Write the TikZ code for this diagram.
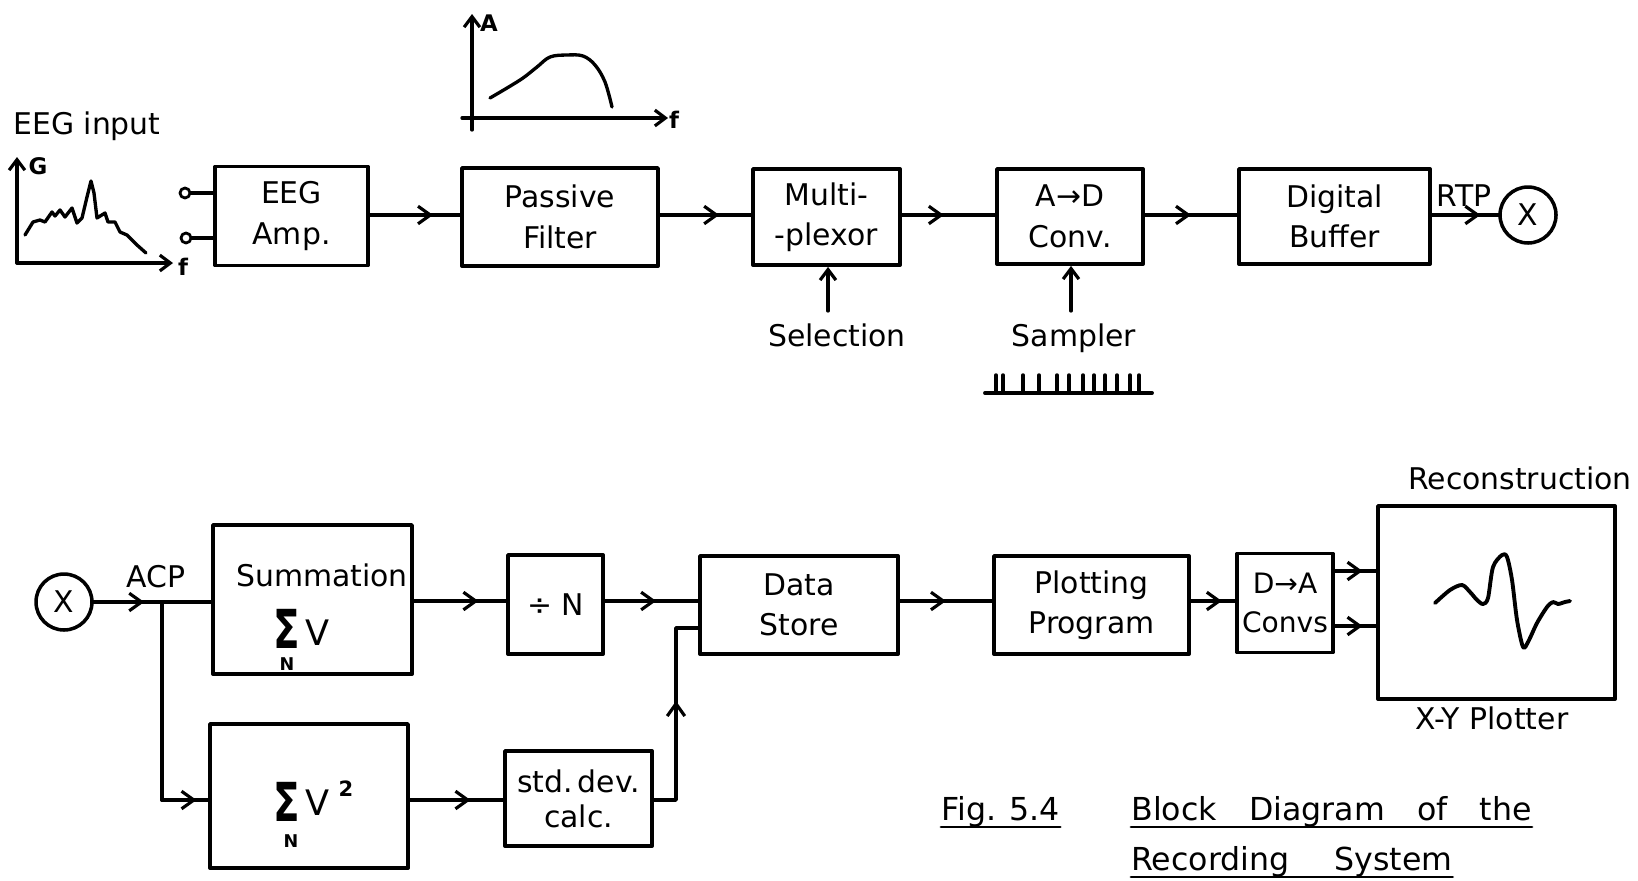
\documentclass[tikz,border=0pt]{standalone}
\usepackage{graphicx}
\usepackage{fontspec}
\setmainfont{DejaVu Sans}
\usetikzlibrary{arrows.meta,decorations.markings,calc}
\newcommand{\tallsig}{\scalebox{1.3}[1.8]{\bfseries Σ}}
\begin{document}
\begin{tikzpicture}[x=0.02cm,y=-0.02cm, line join=round, line cap=round,
 box/.style={draw, line width=2.2pt, align=center, inner sep=0pt, font=\fontsize{17}{23}\selectfont},
 lbl/.style={font=\fontsize{17}{20}\selectfont, inner sep=0pt},
 sml/.style={font=\fontsize{13}{14}\selectfont\bfseries, inner sep=0pt},
 tiny/.style={font=\fontsize{10}{10}\selectfont\bfseries, inner sep=0pt},
 bigv/.style={font=\fontsize{20}{20}\selectfont, inner sep=0pt},
 circ/.style={draw, circle, minimum size=1.12cm, inner sep=0pt, line width=2pt, font=\fontsize{17}{20}\selectfont},
 term/.style={draw, circle, minimum size=0.2cm, inner sep=0pt, line width=1.6pt},
 conn/.style={line width=2.1pt},
 arr/.style={postaction={decorate}, decoration={markings, mark=at position #1 with {\arrow{Straight Barb[length=7pt,width=10pt,line width=1.8pt]}}}},
 ax/.style={line width=1.9pt, -{Straight Barb[length=6pt,width=9pt,line width=1.8pt]}},
 tip/.style={line width=1.9pt, -{Straight Barb[length=6pt,width=9pt,line width=1.8pt]}},
 crv/.style={line width=1.9pt},
 ul/.style={line width=1.6pt}
]
\useasboundingbox (0,0) rectangle (1638,880);

% rows
\coordinate (r1) at (0,215);
\coordinate (r2) at (0,601);
\coordinate (r3) at (0,800);
\coordinate (r4) at (0,628);
\coordinate (r5) at (0,571);
\coordinate (r6) at (0,626);
\coordinate (kx) at (676,0);

% ---------- top row ----------
\node[box, minimum width=3.06cm, minimum height=1.98cm] (amp) at (291.5,216) {EEG\\Amp.};
\node[box, minimum width=3.92cm, minimum height=1.96cm] (filt) at (560,217) {Passive\\Filter};
\node[box, minimum width=2.94cm, minimum height=1.92cm] (mux) at (826.5,217) {Multi-\\-plexor};
\node[box, minimum width=2.92cm, minimum height=1.90cm] (adc) at (1070,216.5) {A→D\\Conv.};
\node[box, minimum width=3.82cm, minimum height=1.90cm] (buf) at (1334.5,216.5) {Digital\\Buffer};
\node[circ] (x1) at (1528,215) {X};

\node[term] (t1) at (185,193) {};
\node[term] (t2) at (186,238) {};
\draw[conn] (t1.east) -- (amp.west |- t1.east);
\draw[conn] (t2.east) -- (amp.west |- t2.east);

\draw[conn, arr=0.7] (amp.east |- r1) -- (filt.west |- r1);
\draw[conn, arr=0.65] (filt.east |- r1) -- (mux.west |- r1);
\draw[conn, arr=0.45] (mux.east |- r1) -- (adc.west |- r1);
\draw[conn, arr=0.5] (adc.east |- r1) -- (buf.west |- r1);
\draw[conn, arr=0.73] (buf.east |- r1) -- (x1.west);
\node[lbl, anchor=base] (rtp) at (1464,206) {RTP};

\node[lbl, anchor=base west] (eegin) at (13,134) {EEG input};
\node[lbl, anchor=base] (sel) at (837,346) {Selection};
\node[lbl, anchor=base] (smp) at (1074,346) {Sampler};
\coordinate (sela) at (828,311);
\coordinate (smpa) at (1071,311);
\draw[tip] (sela) -- (sela |- mux.south);
\draw[tip] (smpa) -- (smpa |- adc.south);

% sampler pulse train
\draw[line width=2.2pt] (985,393) -- (1152,393);
\foreach \t in {996,1003,1023,1039,1057,1069,1083,1094,1105,1117,1130,1139}
  \draw[line width=2pt] (\t,375) -- (\t,393);

% EEG spectrum graph
\draw[ax] (17,263) -- (17,157);
\draw[ax] (17,263) -- (173,263);
\node[sml] (glab) at (38,166) {G};
\node[sml] (f1) at (183,267) {f};
\draw[crv] plot coordinates {(25,235) (33,222) (40,220) (45,222) (52,212) (55,216) (60,210) (65,217) (72,208) (77,223) (82,218) (87,197) (91,181) (94,193) (97,218) (105,213) (108,222) (115,222) (120,232) (127,235) (132,240) (137,245) (146,253)};

% filter response graph
\draw[ax] (472,130) -- (472,14);
\draw[ax] (462,118) -- (668,118);
\node[sml] (alab) at (489,23) {A};
\node[sml] (f2) at (674,120) {f};
\draw[crv] plot[smooth, tension=0.6] coordinates {(490,98) (507,88) (523,78) (537,67) (550,57) (567,55) (583,56) (595,65) (605,82) (612,107)};

% ---------- bottom row ----------
\node[circ] (x2) at (64,602) {X};
\node[box, minimum width=3.98cm, minimum height=2.98cm] (sum) at (312.5,599.5) {};
\node[lbl, anchor=base] (sumt) at (322,586) {Summation};
\node[lbl, inner sep=0pt] (sumsig) at (286.5,629) {\tallsig};
\node[bigv, anchor=base] (sumv) at (317.5,645) {V};
\node[tiny, anchor=north] (sumn) at (287,657) {N};

\node[box, minimum width=1.90cm, minimum height=1.98cm] (divn) at (555.5,604.5) {÷ N};
\node[box, minimum width=3.96cm, minimum height=1.96cm] (store) at (799,605) {Data\\Store};
\node[box, minimum width=3.90cm, minimum height=1.96cm] (plot) at (1091.5,605) {Plotting\\Program};
\node[box, minimum width=1.92cm, minimum height=1.98cm, font=\fontsize{16}{22}\selectfont] (dac) at (1285,603) {D→A\\Convs};
\node[box, minimum width=4.74cm, minimum height=3.86cm] (xy) at (1496.5,602.5) {};

\node[box, minimum width=3.96cm, minimum height=2.88cm] (sq) at (309,796) {};
\node[lbl, inner sep=0pt] (sqsig) at (286.5,802) {\tallsig};
\node[bigv, anchor=base] (sqv) at (317.5,815) {V};
\node[tiny, font=\fontsize{12}{12}\selectfont\bfseries] (sq2) at (346,789) {2};
\node[tiny, anchor=north] (sqn) at (291,834) {N};

\node[box, minimum width=2.94cm, minimum height=1.90cm, font=\fontsize{17}{20}\selectfont] (std) at (578.5,798.5) {std.\,dev.\\calc.};

\node[lbl, anchor=base] (acp) at (156,587) {ACP};
\node[lbl, anchor=base] (rec) at (1520,489) {Reconstruction};
\node[lbl, anchor=base] (xyl) at (1492,729) {X-Y Plotter};

\coordinate (j) at (162,602);
\draw[conn, arr=0.74] (x2.east) -- (j);
\draw[conn] (j) -- (sum.west |- j);
\draw[conn] (j) -- (j |- r3);
\draw[conn, arr=0.75] (j |- r3) -- (sq.west |- r3);

\draw[conn, arr=0.7] (sum.east |- r2) -- (divn.west |- r2);
\draw[conn, arr=0.55] (divn.east |- r2) -- (store.west |- r2);
\draw[conn, arr=0.65] (sq.east |- r3) -- (std.west |- r3);
\draw[conn, arr=0.56] (std.east |- r3) -- (kx |- r3) -- (kx |- r4) -- (store.west |- r4);
\draw[conn, arr=0.5] (store.east |- r2) -- (plot.west |- r2);
\draw[conn, arr=0.7] (plot.east |- r2) -- (dac.west |- r2);
\draw[conn, arr=0.67] (dac.east |- r5) -- (xy.west |- r5);
\draw[conn, arr=0.67] (dac.east |- r6) -- (xy.west |- r6);

% reconstructed waveform
\draw[crv, line width=2.2pt] plot[smooth, tension=0.5] coordinates {(1435,603) (1450,590) (1462,585) (1470,592) (1477,600) (1483,604) (1488,598) (1493,567) (1502,555) (1507,557) (1512,580) (1517,620) (1523,647) (1528,642) (1537,623) (1547,607) (1553,602) (1558,604) (1565,602) (1570,601)};

% caption
\node[anchor=base west, inner sep=0pt, font=\fontsize{18}{20}\selectfont] (fig) at (941,820) {Fig. 5.4};
\node[anchor=base west, inner sep=0pt, font=\fontsize{18}{20}\selectfont] (cap1) at (1131,820) {Block\hspace{0.7em} Diagram\hspace{0.7em} of\hspace{0.7em} the};
\node[anchor=base west, inner sep=0pt, font=\fontsize{18}{20}\selectfont] (cap2) at (1131,870) {Recording\hspace{1.1em} System};
\draw[ul] ($(fig.base west)+(0,7)$) -- ($(fig.base east)+(0,7)$);
\draw[ul] ($(cap1.base west)+(0,7)$) -- ($(cap1.base east)+(0,7)$);
\draw[ul] ($(cap2.base west)+(0,7)$) -- ($(cap2.base east)+(0,7)$);
\end{tikzpicture}
\end{document}
